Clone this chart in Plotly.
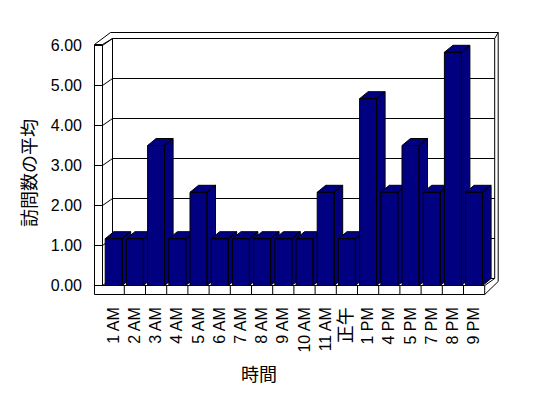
import plotly.graph_objects as go

# ---- data ----
categories = ["1 AM", "2 AM", "3 AM", "4 AM", "5 AM", "6 AM", "7 AM", "8 AM", "9 AM",
              "10 AM", "11 AM", "正午", "1 PM", "4 PM", "5 PM", "7 PM", "8 PM", "9 PM"]
values = [1.17, 1.17, 3.50, 1.17, 2.33, 1.17, 1.17, 1.17, 1.17,
          1.17, 2.33, 1.17, 4.67, 2.33, 3.50, 2.33, 5.83, 2.33]
y_ticks = [0, 1, 2, 3, 4, 5, 6]
x_title = "時間"
y_title = "訪問数の平均"

# ---- geometry (pixel model of the pseudo-3D frame, page coordinates) ----
PAGE_OFF = 8                  # default body margin of the html page
W, H = 548 - PAGE_OFF, 398 - PAGE_OFF
PL, PR, PT, PB = 88, 508, 26, 298   # plot area edges in page px
ML, MR, MT, MB = PL - PAGE_OFF, W - (PR - PAGE_OFF), PT - PAGE_OFF, H - (PB - PAGE_OFF)
X0, PITCH = 113.7, 21.2      # page x of first category centre, px per category
Y0, UNIT = 285.5, 40.0       # page y of value 0 (front plane), px per unit
DX, DY = 10.0, -7.0          # wall depth offset (px)
BDX, BDY = 8.5, -7.0         # bar depth offset (px)
HALF = 8.5                   # half bar width (px)

def xd(px):
    return (px - X0) / PITCH

def yd(py):
    return (Y0 - py) / UNIT

def ypx(v):
    return Y0 - UNIT * v

def xpx(i):
    return X0 + PITCH * i

NAVY = "#000080"
LINE = dict(color="black", width=1)

fig = go.Figure()

# ---- frame lines (walls and floor) ----
segs = []
xl_front, xl_out = 102.5, 94.5
xr_front = xpx(len(categories) - 1) + PITCH / 2
top_front = ypx(max(y_ticks))
back_l, back_r = xl_front + DX, xr_front + DX
back_t, back_b = top_front + DY, Y0 + DY
out_t, out_r = back_t - 6, back_r + 3.5
floor_b = Y0 + 9

# back wall inner face
segs.append([(back_l, back_t), (back_r, back_t), (back_r, back_b), (back_l, back_b), (back_l, back_t)])
for v in y_ticks[1:-1]:
    segs.append([(back_l, ypx(v) + DY), (back_r, ypx(v) + DY)])
# back wall outer edges
segs.append([(back_l - 2, out_t), (out_r, out_t), (out_r, back_b + 3)])
segs.append([(back_r, back_t), (out_r, out_t)])
# left wall
segs.append([(xl_out, floor_b), (xl_out, top_front - 1), (xl_front, top_front - 1), (xl_front, Y0)])
segs.append([(xl_out, top_front - 1), (back_l - 2, out_t)])
segs.append([(xl_front, top_front - 1), (back_l, back_t)])
for v in y_ticks:
    segs.append([(xl_out, ypx(v)), (xl_front, ypx(v)), (back_l, ypx(v) + DY)])
# floor
segs.append([(xl_front, Y0), (xr_front, Y0), (xr_front, floor_b), (xl_out, floor_b)])
segs.append([(xr_front, floor_b), (out_r, back_b + 3)])
segs.append([(xr_front, Y0), (back_r, back_b)])
for i in range(len(categories) - 1):
    xs = xpx(i) + PITCH / 2
    segs.append([(xs, Y0), (xs, floor_b)])

fx, fy = [], []
for s in segs:
    for (a, b) in s:
        fx.append(xd(a))
        fy.append(yd(b))
    fx.append(None)
    fy.append(None)
fig.add_trace(go.Scatter(x=fx, y=fy, mode="lines", line=LINE, hoverinfo="skip",
                         showlegend=False, cliponaxis=False))

# ---- bars (front, side, top faces) drawn left to right ----
for i, v in enumerate(values):
    cx = xpx(i)
    top = ypx(v)
    l, r = cx - HALF, cx + HALF
    front = [(l, Y0), (l, top), (r, top), (r, Y0), (l, Y0)]
    side = [(r, Y0), (r, top), (r + BDX, top + BDY), (r + BDX, Y0 + BDY), (r, Y0)]
    topf = [(l, top), (r, top), (r + BDX, top + BDY), (l + BDX, top + BDY), (l, top)]
    bx, by = [], []
    for poly in (front, side, topf):
        for (a, b) in poly:
            bx.append(xd(a))
            by.append(yd(b))
        bx.append(None)
        by.append(None)
    fig.add_trace(go.Scatter(x=bx, y=by, mode="lines", fill="toself", fillcolor=NAVY,
                             line=LINE, hoverinfo="skip", showlegend=False,
                             name=categories[i], cliponaxis=False))

ticktext = []
for c in categories:
    if any(ord(ch) > 0x2E80 for ch in c):
        ticktext.append("<span style='font-size:18px'>" + c + "</span>")
    else:
        ticktext.append(c)

PW, PH = PR - PL, PB - PT
fig.update_layout(
    width=W, height=H,
    margin=dict(l=ML, r=MR, t=MT, b=MB, pad=0),
    paper_bgcolor="white", plot_bgcolor="white",
    font=dict(family="Liberation Sans, Noto Sans CJK JP", size=16, color="black"),
    xaxis=dict(range=[xd(PL), xd(PR)], tickvals=list(range(len(categories))),
               ticktext=ticktext, tickangle=-90, showgrid=False, zeroline=False,
               showline=False, ticks="", ticklabelstandoff=5, fixedrange=True),
    yaxis=dict(range=[yd(PB), yd(PT)], tickvals=y_ticks,
               ticktext=["%.2f" % t for t in y_ticks], showgrid=False, zeroline=False,
               showline=False, ticks="", ticklabelstandoff=5, fixedrange=True),
    annotations=[
        dict(text=x_title, xref="paper", yref="paper",
             x=(259 - PL) / PW, y=(PB - 373) / PH,
             xanchor="center", yanchor="middle", showarrow=False,
             font=dict(family="Noto Sans CJK JP", size=18)),
        dict(text=y_title, xref="paper", yref="paper", textangle=-90,
             x=(28 - PL) / PW, y=(PB - 173) / PH,
             xanchor="center", yanchor="middle", showarrow=False,
             font=dict(family="Noto Sans CJK JP", size=18)),
    ],
    showlegend=False,
)

fig.write_html("out.html")
